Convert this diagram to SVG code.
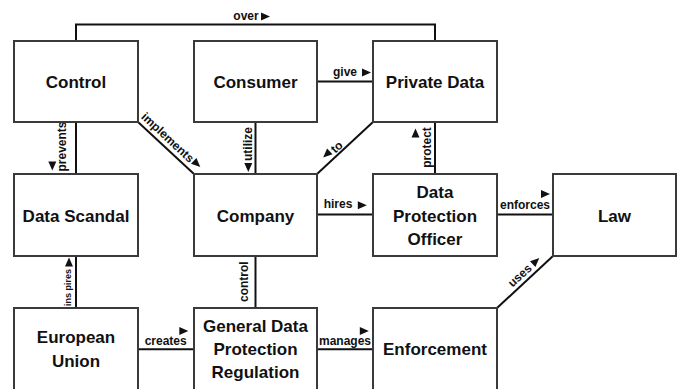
<svg xmlns="http://www.w3.org/2000/svg" xmlns:xlink="http://www.w3.org/1999/xlink" width="681" height="389" viewBox="0 0 681 389">
<style>
.box{fill:#fff;stroke:#3a3a3a;stroke-width:2}
.nt{font-family:"Liberation Sans",Arial,sans-serif;font-weight:bold;font-size:17px;fill:#111;text-anchor:middle}
.ln{fill:none;stroke:#111;stroke-width:2}
.lb{font-family:"Liberation Sans",Arial,sans-serif;font-weight:bold;font-size:12px;fill:#111;text-anchor:middle}
.tri{fill:#111}
</style>
<defs>
<path id="tri" d="M-4.5,-4 L4.5,0 L-4.5,4 Z"/>
</defs>
<rect width="681" height="389" fill="#fff"/>
<g id="connectors">
<polyline class="ln" points="76,41 76,24.5 435,24.5 435,41"/>
<text class="lb" x="246" y="20">over</text>
<use class="tri" href="#tri" transform="translate(265.5,16.5)"/>
<line class="ln" x1="317" y1="81.5" x2="373" y2="81.5"/>
<text class="lb" x="345" y="76">give</text>
<use class="tri" href="#tri" transform="translate(366.5,72.5)"/>
<line class="ln" x1="76" y1="122" x2="76" y2="174"/>
<text class="lb" transform="translate(66,146.5) rotate(-90)">prevents</text>
<use class="tri" href="#tri" transform="translate(52.3,166) rotate(90)"/>
<line class="ln" x1="138" y1="122" x2="194" y2="174"/>
<text class="lb" transform="translate(165,140.5) rotate(42.9)">implements</text>
<use class="tri" href="#tri" transform="translate(197,164) rotate(42.9)"/>
<line class="ln" x1="255.5" y1="122" x2="255.5" y2="174"/>
<text class="lb" transform="translate(252,144) rotate(-90)">utilize</text>
<use class="tri" href="#tri" transform="translate(248.3,167.5) rotate(90)"/>
<line class="ln" x1="373" y1="122" x2="317" y2="174"/>
<text class="lb" transform="translate(339.5,150) rotate(-42.9)">to</text>
<use class="tri" href="#tri" transform="translate(326.5,154.5) rotate(137.1)"/>
<line class="ln" x1="435" y1="122" x2="435" y2="174"/>
<text class="lb" transform="translate(431,147.5) rotate(-90)">protect</text>
<use class="tri" href="#tri" transform="translate(415.5,133) rotate(-90)"/>
<line class="ln" x1="317" y1="214.5" x2="373" y2="214.5"/>
<text class="lb" x="338" y="208">hires</text>
<use class="tri" href="#tri" transform="translate(362.3,205.3)"/>
<line class="ln" x1="497" y1="214.5" x2="553" y2="214.5"/>
<text class="lb" x="525" y="209">enforces</text>
<use class="tri" href="#tri" transform="translate(545.5,194)"/>
<line class="ln" x1="76" y1="256" x2="76" y2="308"/>
<text class="lb" style="font-size:9px" transform="translate(71,287.5) rotate(-90)">ins pires</text>
<use class="tri" href="#tri" transform="translate(69,262) rotate(-90)"/>
<line class="ln" x1="255.5" y1="256" x2="255.5" y2="308"/>
<text class="lb" transform="translate(248,281.7) rotate(-90)">control</text>
<line class="ln" x1="138" y1="349.3" x2="194" y2="349.3"/>
<text class="lb" x="165.7" y="345">creates</text>
<use class="tri" href="#tri" transform="translate(183.8,331)"/>
<line class="ln" x1="317" y1="349.3" x2="373" y2="349.3"/>
<text class="lb" x="345" y="345">manages</text>
<use class="tri" href="#tri" transform="translate(364.3,331)"/>
<line class="ln" x1="497" y1="308" x2="553" y2="256"/>
<text class="lb" transform="translate(522.5,278.5) rotate(-42.9)">uses</text>
<use class="tri" href="#tri" transform="translate(536,261) rotate(-42.9)"/>
</g>
<g id="control"><rect class="box" x="14" y="41" width="124" height="81"/><text class="nt" x="76" y="87.5">Control</text></g>
<g id="consumer"><rect class="box" x="194" y="41" width="123" height="81"/><text class="nt" x="255.5" y="87.5">Consumer</text></g>
<g id="private-data"><rect class="box" x="373" y="41" width="124" height="81"/><text class="nt" x="435" y="87.5">Private Data</text></g>
<g id="data-scandal"><rect class="box" x="14" y="174" width="124" height="82"/><text class="nt" x="76" y="221.5">Data Scandal</text></g>
<g id="company"><rect class="box" x="194" y="174" width="123" height="82"/><text class="nt" x="255.5" y="221.5">Company</text></g>
<g id="dpo"><rect class="box" x="373" y="174" width="124" height="82"/><text class="nt" x="435" y="197.5">Data</text><text class="nt" x="435" y="221.5">Protection</text><text class="nt" x="435" y="245">Officer</text></g>
<g id="law"><rect class="box" x="553" y="174" width="123" height="82"/><text class="nt" x="614.5" y="221.5">Law</text></g>
<g id="european-union"><rect class="box" x="14" y="308" width="124" height="84"/><text class="nt" x="76" y="343.3">European</text><text class="nt" x="76" y="366.8">Union</text></g>
<g id="gdpr"><rect class="box" x="194" y="308" width="123" height="84"/><text class="nt" x="255.5" y="331.7">General Data</text><text class="nt" x="255.5" y="355">Protection</text><text class="nt" x="255.5" y="378.3">Regulation</text></g>
<g id="enforcement"><rect class="box" x="373" y="308" width="124" height="84"/><text class="nt" x="435" y="355">Enforcement</text></g>
</svg>
